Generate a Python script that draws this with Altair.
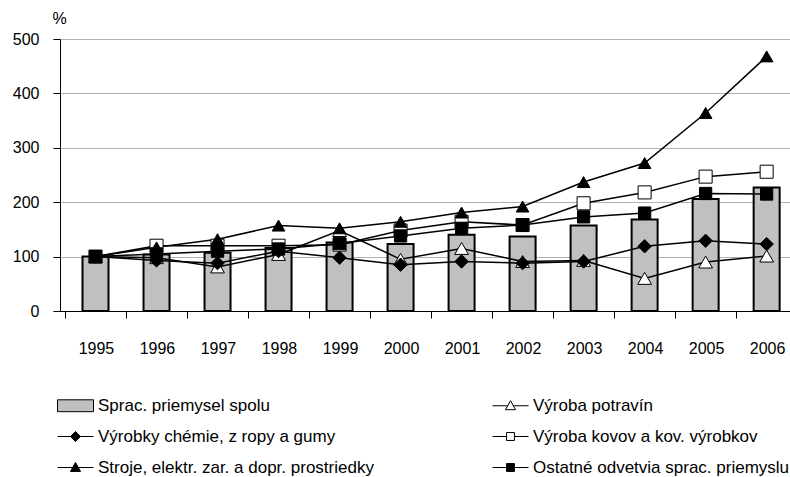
import altair as alt
import pandas as pd

years = list(range(1995, 2007))
series_names = [
    "Sprac. priemysel spolu",
    "Výroba potravín",
    "Výrobky chémie, z ropy a gumy",
    "Výroba kovov a kov. výrobkov",
    "Stroje, elektr. zar. a dopr. prostriedky",
    "Ostatné odvetvia sprac. priemyslu",
]
sprac = [100, 104, 107, 116, 126, 123, 140, 137, 157, 168, 206, 227]
potravin = [100, 98, 81, 104, 148, 95, 115, 91, 93, 60, 90, 101]
chemie = [100, 93, 88, 110, 98, 85, 91, 88, 91, 119, 129, 123]
kovov = [100, 120, 120, 120, 122, 148, 164, 158, 198, 218, 247, 256]
stroje = [100, 117, 132, 157, 152, 164, 181, 192, 237, 272, 364, 468]
ostatne = [100, 105, 110, 114, 124, 138, 152, 158, 173, 180, 216, 215]
y_ticks = [0, 100, 200, 300, 400, 500]

line_series = [potravin, chemie, kovov, stroje, ostatne]

bars_df = pd.DataFrame({"year": years, "value": sprac, "series": series_names[0]})
rows = []
for name, vals in zip(series_names[1:], line_series):
    for yr, v in zip(years, vals):
        rows.append({"year": yr, "value": v, "series": name})
lines_df = pd.DataFrame(rows)

FONT = "Liberation Sans"
band = 61.86
plot_w = 730
x_min = years[0] - 0.5
x_max = x_min + plot_w / band

xscale = alt.Scale(domain=[x_min, x_max], nice=False, zero=False)
yscale = alt.Scale(domain=[0, 500], nice=False)

xaxis = alt.Axis(
    values=[y - 0.5 for y in years],
    labelExpr="'' + (datum.value + 0.5)",
    labelOffset=band / 2,
    labelFlush=False,
    labelOverlap=False,
    grid=False,
    title=None,
    domainColor="black",
    tickColor="black",
    tickSize=7,
    labelPadding=22,
    labelFont=FONT,
    labelFontSize=16,
    labelColor="black",
)
yaxis = alt.Axis(
    values=y_ticks,
    grid=True,
    gridColor="#b0b0b0",
    gridWidth=1,
    domainColor="black",
    tickColor="black",
    tickSize=7,
    labelPadding=14,
    labelFont=FONT,
    labelFontSize=16,
    labelColor="black",
    title="%",
    titleAngle=0,
    titleX=-8,
    titleY=-21,
    titleAlign="left",
    titleBaseline="middle",
    titleFont=FONT,
    titleFontSize=16,
    titleFontWeight="normal",
    titleColor="black",
)

# legend symbol paths (unit square scaled by sqrt(size)/2)
tri_open = "M-1,0H-0.15M0.15,0H1M0,-0.28L0.28,0.22L-0.28,0.22Z"
tri_fill = "M-1,0H1M0,-0.28L0.28,0.22L-0.28,0.22Z"
dia_fill = "M-1,0H1M0,-0.28L0.28,0L0,0.28L-0.28,0Z"
sq_open = "M-1,0H-0.22M0.22,0H1M-0.22,-0.22H0.22V0.22H-0.22Z"
sq_fill = "M-1,0H1M-0.22,-0.22H0.22V0.22H-0.22Z"
bar_sym = "M-1,-0.33H1V0.33H-1Z"
paths = [bar_sym, tri_open, dia_fill, sq_open, tri_fill, sq_fill]
expr = "'" + paths[-1] + "'"
for name, p in reversed(list(zip(series_names[:-1], paths[:-1]))):
    expr = f"datum.value == '{name}' ? '{p}' : ({expr})"

legend = alt.Legend(
    orient="none",
    direction="horizontal",
    legendX=-3,
    legendY=348,
    columns=2,
    columnPadding=116,
    rowPadding=4,
    title=None,
    symbolSize=1296,
    symbolType=alt.ExprRef(expr=expr),
    symbolStrokeColor="black",
    symbolStrokeWidth=1,
    symbolOpacity=1,
    labelFont=FONT,
    labelFontSize=17,
    labelColor="black",
    labelLimit=0,
    labelOffset=4,
)

fillscale = alt.Scale(domain=series_names,
                      range=["#c0c0c0", "white", "black", "white", "black", "black"])
shapescale = alt.Scale(domain=series_names[1:],
                       range=["triangle-up", "diamond", "square", "triangle-up", "square"])
sizescale = alt.Scale(domain=series_names[1:], range=[190, 150, 120, 190, 120])

x_enc = alt.X("year:Q", scale=xscale, axis=xaxis)
y_enc = alt.Y("value:Q", scale=yscale, axis=yaxis)

bars = alt.Chart(bars_df).mark_bar(size=26, stroke="black", strokeWidth=2).encode(
    x=x_enc, y=y_enc,
    fill=alt.Fill("series:N", scale=fillscale, legend=legend, sort=None),
)
lines = alt.Chart(lines_df).mark_line(color="black", strokeWidth=1.5).encode(
    x=x_enc, y=y_enc, detail="series:N"
)
points = alt.Chart(lines_df).mark_point(filled=True, opacity=1, stroke="black", strokeWidth=1).encode(
    x=x_enc, y=y_enc,
    fill=alt.Fill("series:N", scale=fillscale, legend=legend, sort=None),
    shape=alt.Shape("series:N", scale=shapescale, legend=None),
    size=alt.Size("series:N", scale=sizescale, legend=None),
)

chart = alt.layer(bars, lines, points).properties(
    width=plot_w,
    height=272,
    autosize="none",
    padding={"left": 60, "top": 39, "right": 0, "bottom": 166},
).configure_view(stroke=None).configure(background="white")

chart.save("out.html", embed_options={"renderer": "svg", "actions": False})
